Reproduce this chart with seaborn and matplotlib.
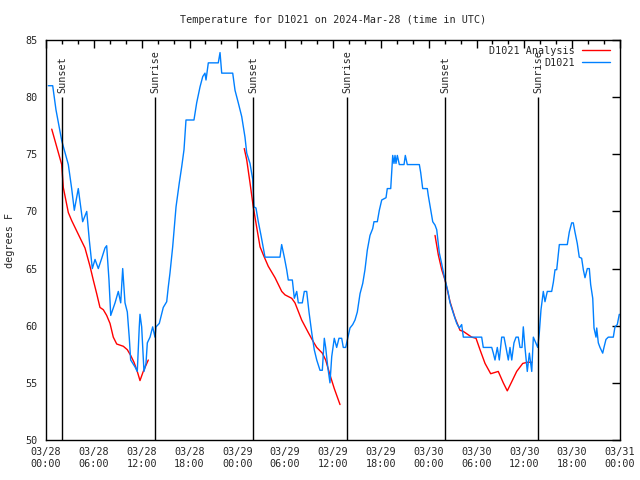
import pandas as pd
import seaborn as sns
import matplotlib.pyplot as plt
import matplotlib.dates as mdates


START = pd.Timestamp('2024-03-28 00:00')

# Station observations (hours after START, deg F)
obs_hours = [0.29, 0.84, 1.25, 1.97, 2.80, 3.22, 3.55, 4.05, 4.60, 5.11, 5.43, 5.81, 6.15, 6.56,
             6.99, 7.40, 7.61, 7.90, 8.12, 8.66, 9.07, 9.37, 9.62, 9.91, 10.20, 10.45, 10.62,
             11.16, 11.45, 11.70, 11.79, 12.00, 12.29, 12.54, 12.71, 13.05, 13.38, 13.67, 13.80,
             14.21, 14.71, 15.14, 15.34, 15.55, 15.89, 16.31, 16.72, 17.02, 17.31, 17.56, 18.56,
             18.90, 19.32, 19.66, 19.94, 20.07, 20.36, 21.61, 21.83, 22.04, 23.42, 23.71, 24.12,
             24.55, 24.96, 25.18, 25.59, 25.93, 26.09, 26.34, 26.63, 26.97, 27.26, 27.47, 29.35,
             29.56, 29.89, 30.19, 30.39, 30.90, 31.15, 31.45, 31.65, 32.15, 32.40, 32.70, 32.99,
             33.33, 33.65, 33.96, 34.37, 34.66, 34.91, 35.08, 35.34, 35.62, 35.84, 36.16, 36.46,
             36.75, 37.09, 37.29, 37.59, 37.84, 38.13, 38.47, 38.76, 39.05, 39.39, 39.73, 40.01,
             40.30, 40.64, 40.98, 41.14, 41.56, 41.81, 42.11, 42.65, 42.81, 43.24, 43.36, 43.49,
             43.65, 43.78, 43.90, 44.07, 44.32, 44.91, 45.07, 45.32, 46.83, 47.00, 47.25, 47.83,
             47.95, 48.26, 48.51, 48.80, 49.01, 49.33, 49.64, 49.92, 50.17, 50.42, 50.68, 51.09,
             51.52, 51.84, 52.14, 52.35, 54.65, 54.85, 55.91, 56.11, 56.32, 56.61, 56.86, 57.16,
             57.45, 57.70, 57.99, 58.20, 58.42, 58.70, 58.96, 59.24, 59.46, 59.71, 59.87, 60.08,
             60.37, 60.63, 60.93, 61.13, 61.43, 61.68, 61.88, 62.09, 62.38, 62.59, 62.88, 63.43,
             63.64, 63.85, 64.06, 64.39, 65.39, 65.64, 65.94, 66.14, 66.35, 66.64, 66.89, 67.19,
             67.40, 67.61, 67.90, 68.15, 68.32, 68.58, 68.74, 68.99, 69.08, 69.28, 69.49, 69.83,
             69.99, 70.24, 70.53, 71.16, 71.37, 71.66, 71.91]
obs_temp = [81.0, 81.0, 78.9, 76.2, 74.1, 72.0, 70.1, 72.0, 69.1, 70.0, 67.5, 65.0, 65.8, 65.0,
            65.9, 66.8, 67.0, 64.0, 60.9, 62.0, 63.0, 62.0, 65.0, 62.0, 61.2, 58.9, 57.0,
            56.4, 56.0, 59.9, 61.0, 59.9, 56.0, 56.7, 58.5, 59.0, 59.9, 59.0, 59.9,
            60.2, 61.6, 62.1, 63.4, 64.6, 66.9, 70.4, 72.5, 73.9, 75.4, 78.0, 78.0,
            79.5, 80.9, 81.8, 82.1, 81.5, 83.0, 83.0, 83.9, 82.1, 82.1, 80.6, 79.5,
            78.3, 76.5, 75.1, 74.2, 72.8, 70.4, 70.3, 69.1, 67.9, 66.8, 66.0, 66.0,
            67.1, 66.0, 64.9, 64.0, 64.0, 62.4, 63.0, 62.0, 62.0, 63.0, 63.0, 61.2,
            59.4, 57.9, 57.0, 56.1, 56.1, 58.9, 58.1, 56.4, 55.0, 57.3, 58.9, 58.1,
            58.9, 58.9, 58.1, 58.1, 58.9, 59.8, 60.1, 60.5, 61.2, 62.8, 63.7, 64.9,
            66.6, 67.9, 68.5, 69.1, 69.1, 70.1, 71.0, 71.2, 72.0, 72.0, 73.4, 74.9,
            74.2, 74.9, 74.2, 74.9, 74.1, 74.1, 74.9, 74.1, 74.1, 73.4, 72.0, 72.0,
            71.4, 70.1, 69.1, 68.8, 68.4, 66.4, 65.4, 64.4, 63.7, 63.0, 62.0, 61.1,
            60.2, 59.8, 60.1, 59.0, 59.0, 58.1, 58.1, 57.6, 57.0, 58.1, 57.0, 59.0,
            59.0, 58.1, 57.0, 58.1, 57.0, 58.5, 59.0, 59.0, 58.1, 58.1, 59.9, 58.1,
            56.0, 57.6, 56.0, 59.0, 58.5, 58.1, 59.4, 61.4, 63.0, 62.1, 63.0, 63.0,
            63.8, 64.9, 64.9, 67.1, 67.1, 68.2, 69.0, 69.0, 68.2, 67.2, 66.0, 65.9,
            64.9, 64.2, 65.0, 65.0, 63.6, 62.4, 59.8, 59.0, 59.8, 58.5, 58.1, 57.6,
            58.1, 58.8, 59.0, 59.0, 59.9, 60.1, 61.0]

# Analysis, three overnight pieces
ana_hours_1 = [0.72, 1.97, 2.17, 2.80, 3.22, 4.26, 4.68, 4.89, 5.52, 5.93, 6.36, 6.77, 7.19,
               7.61, 8.03, 8.44, 8.87, 9.70, 10.20, 10.62, 11.04, 11.45, 11.79, 12.20, 12.83]
ana_temp_1 = [77.2, 74.1, 72.1, 69.9, 69.2, 67.7, 67.1, 66.8, 65.2, 64.0, 62.8, 61.6, 61.4,
              60.9, 60.2, 59.0, 58.4, 58.2, 57.9, 57.4, 56.8, 56.0, 55.2, 56.0, 57.0]
ana_hours_2 = [24.87, 25.18, 25.59, 26.00, 26.43, 26.85, 27.26, 27.88, 28.73, 29.57, 29.98,
               30.82, 31.23, 32.07, 32.90, 33.53, 33.96, 34.66, 35.08, 35.62, 36.16, 36.88]
ana_temp_2 = [75.5, 74.5, 72.5, 70.4, 68.6, 66.9, 66.2, 65.2, 64.2, 63.0, 62.7,
              62.4, 62.0, 60.5, 59.4, 58.6, 58.1, 57.6, 57.0, 55.7, 54.5, 53.1]
ana_hours_3 = [48.80, 49.21, 49.64, 50.05, 50.68, 51.30, 51.93, 52.35, 53.40, 53.94, 54.44,
               55.07, 55.78, 56.73, 57.36, 57.86, 58.42, 59.04, 59.80, 60.37, 60.96]
ana_temp_3 = [67.9, 66.2, 64.9, 64.0, 62.1, 60.7, 59.6, 59.5, 59.0, 58.9, 57.9,
              56.7, 55.8, 56.0, 55.0, 54.3, 55.1, 56.0, 56.7, 56.8, 56.8]

sun_hours = [2.0, 13.67, 25.97, 37.76, 50.05, 61.7]
sun_labels = ['Sunset', 'Sunrise', 'Sunset', 'Sunrise', 'Sunset', 'Sunrise']

STATION = 'D1021'
RED = '#ff0000'
BLUE = '#0080ff'
MONO = 'DejaVu Sans Mono'


def to_time(hours):
    return START + pd.to_timedelta(hours, unit='h')


def main():
    sns.set_style('white')
    plt.rcParams['font.family'] = [MONO]
    plt.rcParams['font.size'] = 7.3

    fig = plt.figure(figsize=(6.4, 4.8), dpi=100)
    ax = fig.add_axes([46 / 640, 40 / 480, 574 / 640, 400 / 480])

    segments = [(ana_hours_1, ana_temp_1), (ana_hours_2, ana_temp_2), (ana_hours_3, ana_temp_3)]
    for i, (hrs, temps) in enumerate(segments):
        df_seg = pd.DataFrame({'time': to_time(hrs), 'temp': temps})
        sns.lineplot(data=df_seg, x='time', y='temp', ax=ax, color=RED, lw=1,
                     label=f'{STATION} Analysis' if i == 0 else None)

    df_obs = pd.DataFrame({'time': to_time(obs_hours), 'temp': obs_temp})
    sns.lineplot(data=df_obs, x='time', y='temp', ax=ax, color=BLUE, lw=1, label=STATION)

    # sunrise / sunset markers
    sun_times = to_time(sun_hours)
    ax.vlines(sun_times, 50, 80, color='black', lw=1)
    for t, lab in zip(sun_times, sun_labels):
        ax.text(t, 80.4, lab, rotation=90, ha='center', va='bottom', fontsize=7.3)

    ax.set_xlim(START, START + pd.Timedelta(hours=72))
    ax.set_ylim(50, 85)
    ax.set_yticks(range(50, 86, 5))
    ax.xaxis.set_major_locator(mdates.HourLocator(byhour=[0, 6, 12, 18]))
    ax.xaxis.set_minor_locator(mdates.HourLocator(byhour=range(0, 24, 2)))
    ax.xaxis.set_major_formatter(mdates.DateFormatter('%m/%d\n%H:%M'))
    ax.tick_params(which='both', direction='in', top=True, right=True, color='black', width=1)
    ax.tick_params(which='major', length=6)
    ax.tick_params(which='minor', length=3)
    ax.tick_params(axis='x', pad=5)
    ax.tick_params(axis='y', pad=6)
    for lab in ax.get_xticklabels():
        lab.set_linespacing(1.25)
    for spine in ax.spines.values():
        spine.set_color('black')
        spine.set_linewidth(1)

    ax.set_xlabel('')
    ax.set_ylabel('')
    fig.text(10 / 640, 1 - 240 / 480, 'degrees F', rotation=90, ha='center', va='center')
    fig.text(333 / 640, 1 - 20 / 480, f'Temperature for {STATION} on 2024-Mar-28 (time in UTC)',
             ha='center', va='center')

    # key in the top right corner, text right-justified before the sample line
    ax.legend(loc='upper right', bbox_to_anchor=(1 - 10 / 574, 1 - 6 / 400), frameon=False,
              markerfirst=False, handlelength=2.8, handletextpad=0.7, labelspacing=0.2,
              borderpad=0, borderaxespad=0)

    fig.savefig('out.png', dpi=100)


if __name__ == "__main__":
    main()
